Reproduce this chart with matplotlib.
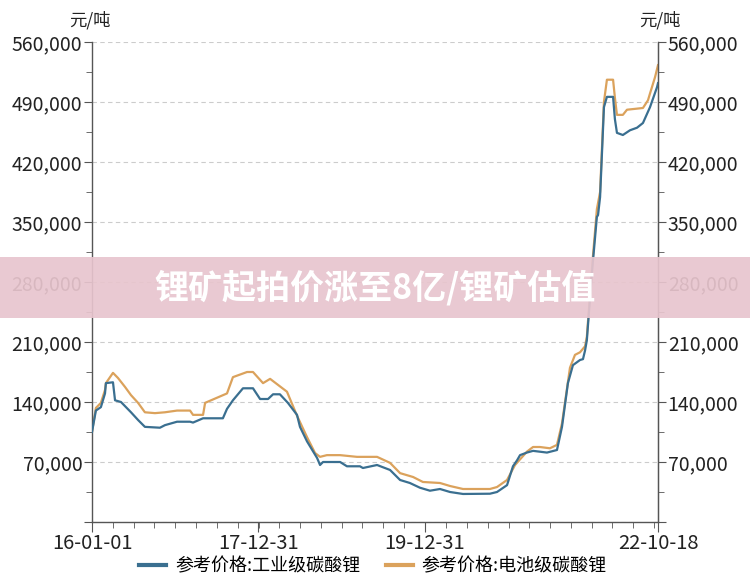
import numpy as np
import pandas as pd
import matplotlib
matplotlib.use('Agg')
import matplotlib.pyplot as plt
import matplotlib.dates as mdates
from matplotlib.patches import Rectangle
from matplotlib.ticker import MultipleLocator, FuncFormatter, FixedLocator, FixedFormatter

plt.rcParams['font.family'] = ['Noto Sans CJK SC', 'DejaVu Sans']

# 参考价格:工业级碳酸锂 (元/吨)
ind_dates = ['2016-01-01', '2016-01-18', '2016-02-09', '2016-02-27', '2016-03-02', '2016-04-02',
             '2016-04-11', '2016-05-07', '2016-05-29', '2016-06-20', '2016-07-21', '2016-08-20',
             '2016-10-25', '2016-11-16', '2017-01-08', '2017-03-06', '2017-03-19', '2017-05-02',
             '2017-07-28', '2017-08-15', '2017-09-10', '2017-10-24', '2017-12-07', '2018-01-07',
             '2018-02-11', '2018-03-05', '2018-04-04', '2018-05-09', '2018-06-18', '2018-07-01',
             '2018-08-01', '2018-09-14', '2018-09-27', '2018-10-10', '2018-12-24', '2019-01-23',
             '2019-03-21', '2019-04-03', '2019-06-04', '2019-07-31', '2019-09-13', '2019-10-26',
             '2019-12-09', '2020-01-22', '2020-03-06', '2020-04-19', '2020-06-15', '2020-10-11',
             '2020-11-11', '2020-12-25', '2021-01-20', '2021-02-07', '2021-02-20', '2021-03-22',
             '2021-04-18', '2021-06-18', '2021-08-01', '2021-08-23', '2021-09-18', '2021-10-10',
             '2021-11-10', '2021-11-23', '2021-12-02', '2021-12-10', '2022-01-01', '2022-01-23',
             '2022-01-28', '2022-02-06', '2022-02-23', '2022-03-08', '2022-04-04', '2022-04-12',
             '2022-04-21', '2022-05-17', '2022-06-17', '2022-07-18', '2022-08-13', '2022-09-13',
             '2022-10-14', '2022-10-18']
ind_values = [105000, 130000, 134000, 150000, 162000, 163000,
              142000, 140000, 134000, 128000, 119000, 111000,
              110000, 113000, 117000, 117000, 116000, 121000,
              121000, 132000, 142000, 156000, 156000, 143500,
              143500, 149000, 149000, 139000, 125000, 111000,
              94000, 74700, 66500, 70000, 70000, 65000,
              65000, 63000, 66500, 60700, 49000, 45500,
              40000, 36500, 38500, 35000, 32700, 33000,
              35000, 43000, 65000, 72000, 78000, 81000,
              83000, 81000, 84000, 111000, 162000, 183000,
              189000, 190000, 200000, 212000, 290000, 356000,
              358000, 379000, 484000, 496000, 496000, 470000,
              454000, 451500, 457000, 460000, 465500, 484000,
              507500, 512000]

# 参考价格:电池级碳酸锂 (元/吨)
bat_dates = ['2016-01-01', '2016-01-18', '2016-02-09', '2016-02-27', '2016-03-02', '2016-04-02',
             '2016-04-24', '2016-05-25', '2016-06-20', '2016-07-21', '2016-08-20', '2016-10-03',
             '2016-11-16', '2017-01-08', '2017-03-06', '2017-03-19', '2017-05-02', '2017-05-11',
             '2017-08-15', '2017-09-10', '2017-11-11', '2017-12-07', '2018-01-20', '2018-02-20',
             '2018-05-05', '2018-06-18', '2018-08-01', '2018-09-05', '2018-09-27', '2018-10-27',
             '2018-12-24', '2019-03-08', '2019-06-04', '2019-07-31', '2019-09-13', '2019-11-09',
             '2019-12-22', '2020-03-06', '2020-04-19', '2020-06-15', '2020-10-11', '2020-11-11',
             '2020-12-25', '2021-01-29', '2021-03-22', '2021-04-18', '2021-05-18', '2021-07-01',
             '2021-08-01', '2021-08-23', '2021-09-27', '2021-10-19', '2021-11-10', '2021-12-02',
             '2021-12-10', '2022-01-01', '2022-01-23', '2022-02-06', '2022-02-23', '2022-03-08',
             '2022-04-04', '2022-04-12', '2022-04-21', '2022-05-17', '2022-06-04', '2022-08-13',
             '2022-09-04', '2022-09-13', '2022-10-05', '2022-10-18']
bat_values = [105000, 133000, 139000, 154000, 162000, 174000,
              168000, 157500, 148000, 139000, 128000, 127000,
              128000, 130000, 130000, 125000, 125000, 139000,
              150000, 169000, 175000, 175000, 162000, 167000,
              152000, 124000, 99000, 80500, 76000, 78000,
              78000, 76000, 76000, 69000, 57000, 52500,
              46700, 45500, 42000, 38500, 38500, 40800,
              49000, 66500, 82000, 87500, 87500, 86000,
              90000, 115000, 180000, 195000, 198000, 205000,
              216000, 295000, 365000, 385000, 490000, 516000,
              516000, 495000, 475000, 475000, 481000, 483000,
              492000, 500000, 519000, 533000]

series_names = ['参考价格:工业级碳酸锂', '参考价格:电池级碳酸锂']
xtick_dates = ['2016-01-01', '2017-12-31', '2019-12-31', '2022-10-18']
xtick_labels = ['16-01-01', '17-12-31', '19-12-31', '22-10-18']
banner_text = '锂矿起拍价涨至8亿/锂矿估值'

BLUE = '#3a6f90'
ORANGE = '#dba25c'
AXIS = '#555555'
TXT = '#222222'

fig = plt.figure(figsize=(7.5, 5.76), dpi=100)
ax = fig.add_axes([92/750, 1 - 522/576, 566/750, 480/576])

ax.plot(pd.to_datetime(ind_dates), ind_values, color=BLUE, lw=1.6, label=series_names[0], zorder=3)
ax.plot(pd.to_datetime(bat_dates), bat_values, color=ORANGE, lw=1.6, label=series_names[1], zorder=2)

ax.set_xlim(pd.Timestamp('2016-01-01'), pd.Timestamp('2022-10-18'))
ax.set_ylim(0, 560000)

# no label at zero, like the source chart
fmt = FuncFormatter(lambda v, p: f'{int(v):,}' if v > 0 else '')
ax.yaxis.set_major_locator(MultipleLocator(70000))
ax.yaxis.set_minor_locator(MultipleLocator(35000))
ax.yaxis.set_major_formatter(fmt)
ax.grid(axis='y', which='major', color='#cccccc', ls=(0, (4, 3)), lw=0.8)
ax.set_axisbelow(True)

ax.xaxis.set_major_locator(FixedLocator(mdates.date2num(pd.to_datetime(xtick_dates))))
ax.xaxis.set_major_formatter(FixedFormatter(xtick_labels))
ax.xaxis.set_minor_locator(mdates.MonthLocator(bymonth=[1, 4, 7, 10]))

ax.spines['top'].set_visible(False)
for s in ['left', 'right', 'bottom']:
    ax.spines[s].set_color(AXIS)
    ax.spines[s].set_linewidth(1.0)

ax.tick_params(axis='y', which='major', length=6, color=AXIS, labelsize=14, pad=1, labelcolor=TXT)
ax.tick_params(axis='y', which='minor', length=4, color=AXIS)
ax.tick_params(axis='x', which='major', length=7, color=AXIS, labelsize=14.5, pad=1, labelcolor=TXT)
ax.tick_params(axis='x', which='minor', length=4, color=AXIS)

ax2 = ax.twinx()
ax2.set_ylim(ax.get_ylim())
ax2.yaxis.set_major_locator(MultipleLocator(70000))
ax2.yaxis.set_minor_locator(MultipleLocator(35000))
ax2.yaxis.set_major_formatter(fmt)
ax2.tick_params(axis='y', which='major', length=6, color=AXIS, labelsize=14, pad=1, labelcolor=TXT)
ax2.tick_params(axis='y', which='minor', length=4, color=AXIS)
for s in ['top', 'left', 'bottom']:
    ax2.spines[s].set_visible(False)
ax2.spines['right'].set_color(AXIS)

fig.text(90/750, 1 - 20/576, '元/吨', ha='center', va='center', fontsize=12.5, color=TXT)
fig.text(660/750, 1 - 20/576, '元/吨', ha='center', va='center', fontsize=12.5, color=TXT)

h, l = ax.get_legend_handles_labels()
leg = fig.legend(h, l, loc='center', bbox_to_anchor=(373/750, 1 - 566/576), ncol=2, frameon=False,
                 fontsize=13, handlelength=1.5, handletextpad=0.5, columnspacing=1.4,
                 borderpad=0.1)
for line in leg.get_lines():
    line.set_linewidth(3)

fig.add_artist(Rectangle((0, 1 - 318/576), 1, 61/576, transform=fig.transFigure,
                         facecolor='#e8c5ce', alpha=0.92, edgecolor='none', zorder=10))
fig.text(375/750, 1 - 288/576, banner_text, ha='center', va='center', fontsize=24.5,
         fontweight='heavy', color='white', zorder=11)

fig.savefig('out.png', dpi=100)
